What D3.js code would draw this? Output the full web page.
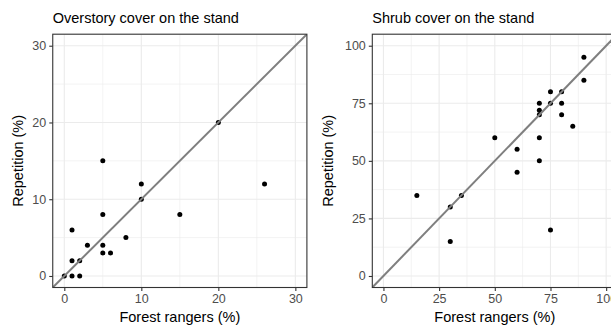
<!DOCTYPE html>
<html>
<head>
<meta charset="utf-8">
<script src="https://cdn.jsdelivr.net/npm/d3@7"></script>
<style>
  html, body { margin: 0; padding: 0; background: #ffffff; }
  svg { display: block; font-family: "Liberation Sans", Arial, Helvetica, sans-serif; }
</style>
</head>
<body>
<svg id="chart" width="611" height="326"></svg>
<script>
// ---- Data ----
const panelTitles = ["Overstory cover on the stand", "Shrub cover on the stand"];
const xAxisTitle = "Forest rangers (%)";
const yAxisTitle = "Repetition (%)";

const overstoryRangers    = [0, 1, 2, 1, 2, 1, 3, 5, 5, 6, 5, 5, 8, 10, 10, 15, 20, 26];
const overstoryRepetition = [0, 0, 0, 2, 2, 6, 4, 4, 3, 3, 8, 15, 5, 12, 10, 8, 20, 12];
const overstoryTicks      = [0, 10, 20, 30];
const overstoryMinor      = [5, 15, 25];
const overstoryLimits     = [0, 30];

const shrubRangers    = [15, 30, 30, 35, 50, 60, 60, 70, 70, 70, 70, 70, 75, 75, 75, 80, 80, 80, 85, 90, 90];
const shrubRepetition = [35, 30, 15, 35, 60, 55, 45, 75, 72, 70, 60, 50, 80, 75, 20, 80, 75, 70, 65, 95, 85];
const shrubTicks      = [0, 25, 50, 75, 100];
const shrubMinor      = [12.5, 37.5, 62.5, 87.5];
const shrubLimits     = [0, 100];

// ---- Layout ----
const svg = d3.select("#chart");
const panelTop = 34.2, panelBottom = 287.5;

const panels = [
  { title: panelTitles[0], xs: overstoryRangers, ys: overstoryRepetition, ticks: overstoryTicks,
    minor: overstoryMinor, lim: overstoryLimits, left: 52.75, right: 306.9, yTitleX: 23 },
  { title: panelTitles[1], xs: shrubRangers, ys: shrubRepetition, ticks: shrubTicks,
    minor: shrubMinor, lim: shrubLimits, left: 372.3, right: 617.3, yTitleX: 333 }
];

panels.forEach((p, i) => {
  const span = p.lim[1] - p.lim[0];
  const dom = [p.lim[0] - 0.05 * span, p.lim[1] + 0.05 * span];
  const x = d3.scaleLinear().domain(dom).range([p.left, p.right]);
  const y = d3.scaleLinear().domain(dom).range([panelBottom, panelTop]);
  const g = svg.append("g");

  const clipId = "clip" + i;
  svg.append("clipPath").attr("id", clipId)
    .append("rect").attr("x", p.left).attr("y", panelTop)
    .attr("width", p.right - p.left).attr("height", panelBottom - panelTop);

  const grid = g.append("g").attr("clip-path", `url(#${clipId})`);
  // minor grid
  grid.selectAll(".mx").data(p.minor).join("line")
    .attr("x1", d => x(d)).attr("x2", d => x(d)).attr("y1", panelTop).attr("y2", panelBottom)
    .attr("stroke", "#ebebeb").attr("stroke-width", 0.6);
  grid.selectAll(".my").data(p.minor).join("line")
    .attr("y1", d => y(d)).attr("y2", d => y(d)).attr("x1", p.left).attr("x2", p.right)
    .attr("stroke", "#ebebeb").attr("stroke-width", 0.6);
  // major grid
  grid.selectAll(".Mx").data(p.ticks).join("line")
    .attr("x1", d => x(d)).attr("x2", d => x(d)).attr("y1", panelTop).attr("y2", panelBottom)
    .attr("stroke", "#ebebeb").attr("stroke-width", 1.1);
  grid.selectAll(".My").data(p.ticks).join("line")
    .attr("y1", d => y(d)).attr("y2", d => y(d)).attr("x1", p.left).attr("x2", p.right)
    .attr("stroke", "#ebebeb").attr("stroke-width", 1.1);

  // points
  const pts = p.xs.map((v, k) => [v, p.ys[k]]);
  const marks = g.append("g").attr("clip-path", `url(#${clipId})`);
  marks.selectAll("circle").data(pts).join("circle")
    .attr("cx", d => x(d[0])).attr("cy", d => y(d[1])).attr("r", 2.5).attr("fill", "#000");

  // identity line
  marks.append("line")
    .attr("x1", x(dom[0])).attr("y1", y(dom[0]))
    .attr("x2", x(dom[1])).attr("y2", y(dom[1]))
    .attr("stroke", "#7f7f7f").attr("stroke-width", 2);

  // border
  g.append("rect").attr("x", p.left).attr("y", panelTop)
    .attr("width", p.right - p.left).attr("height", panelBottom - panelTop)
    .attr("fill", "none").attr("stroke", "#333333").attr("stroke-width", 1.1);

  // axes
  const xAxis = d3.axisBottom(x).tickValues(p.ticks).tickSize(3.5).tickPadding(3).tickFormat(d3.format("d"));
  const yAxis = d3.axisLeft(y).tickValues(p.ticks).tickSize(3.5).tickPadding(3).tickFormat(d3.format("d"));
  const gx = g.append("g").attr("transform", `translate(0,${panelBottom})`).call(xAxis);
  const gy = g.append("g").attr("transform", `translate(${p.left},0)`).call(yAxis);
  [gx, gy].forEach(a => {
    a.select(".domain").remove();
    a.selectAll(".tick line").attr("stroke", "#333333").attr("stroke-width", 1.1);
    a.selectAll(".tick text").attr("fill", "#4d4d4d").style("font-size", "12.5px")
      .style("font-family", '"Liberation Sans", Arial, sans-serif');
  });

  // titles
  g.append("text").attr("x", p.left).attr("y", 23).text(p.title)
    .style("font-size", "14.5px").attr("fill", "#000");
  g.append("text").attr("x", (p.left + p.right) / 2).attr("y", 322).attr("text-anchor", "middle")
    .text(xAxisTitle).style("font-size", "14.5px").attr("fill", "#000");
  g.append("text").attr("transform", `translate(${p.yTitleX},${(panelTop + panelBottom) / 2}) rotate(-90)`)
    .attr("text-anchor", "middle").text(yAxisTitle).style("font-size", "14.5px").attr("fill", "#000");
});
</script>
</body>
</html>
